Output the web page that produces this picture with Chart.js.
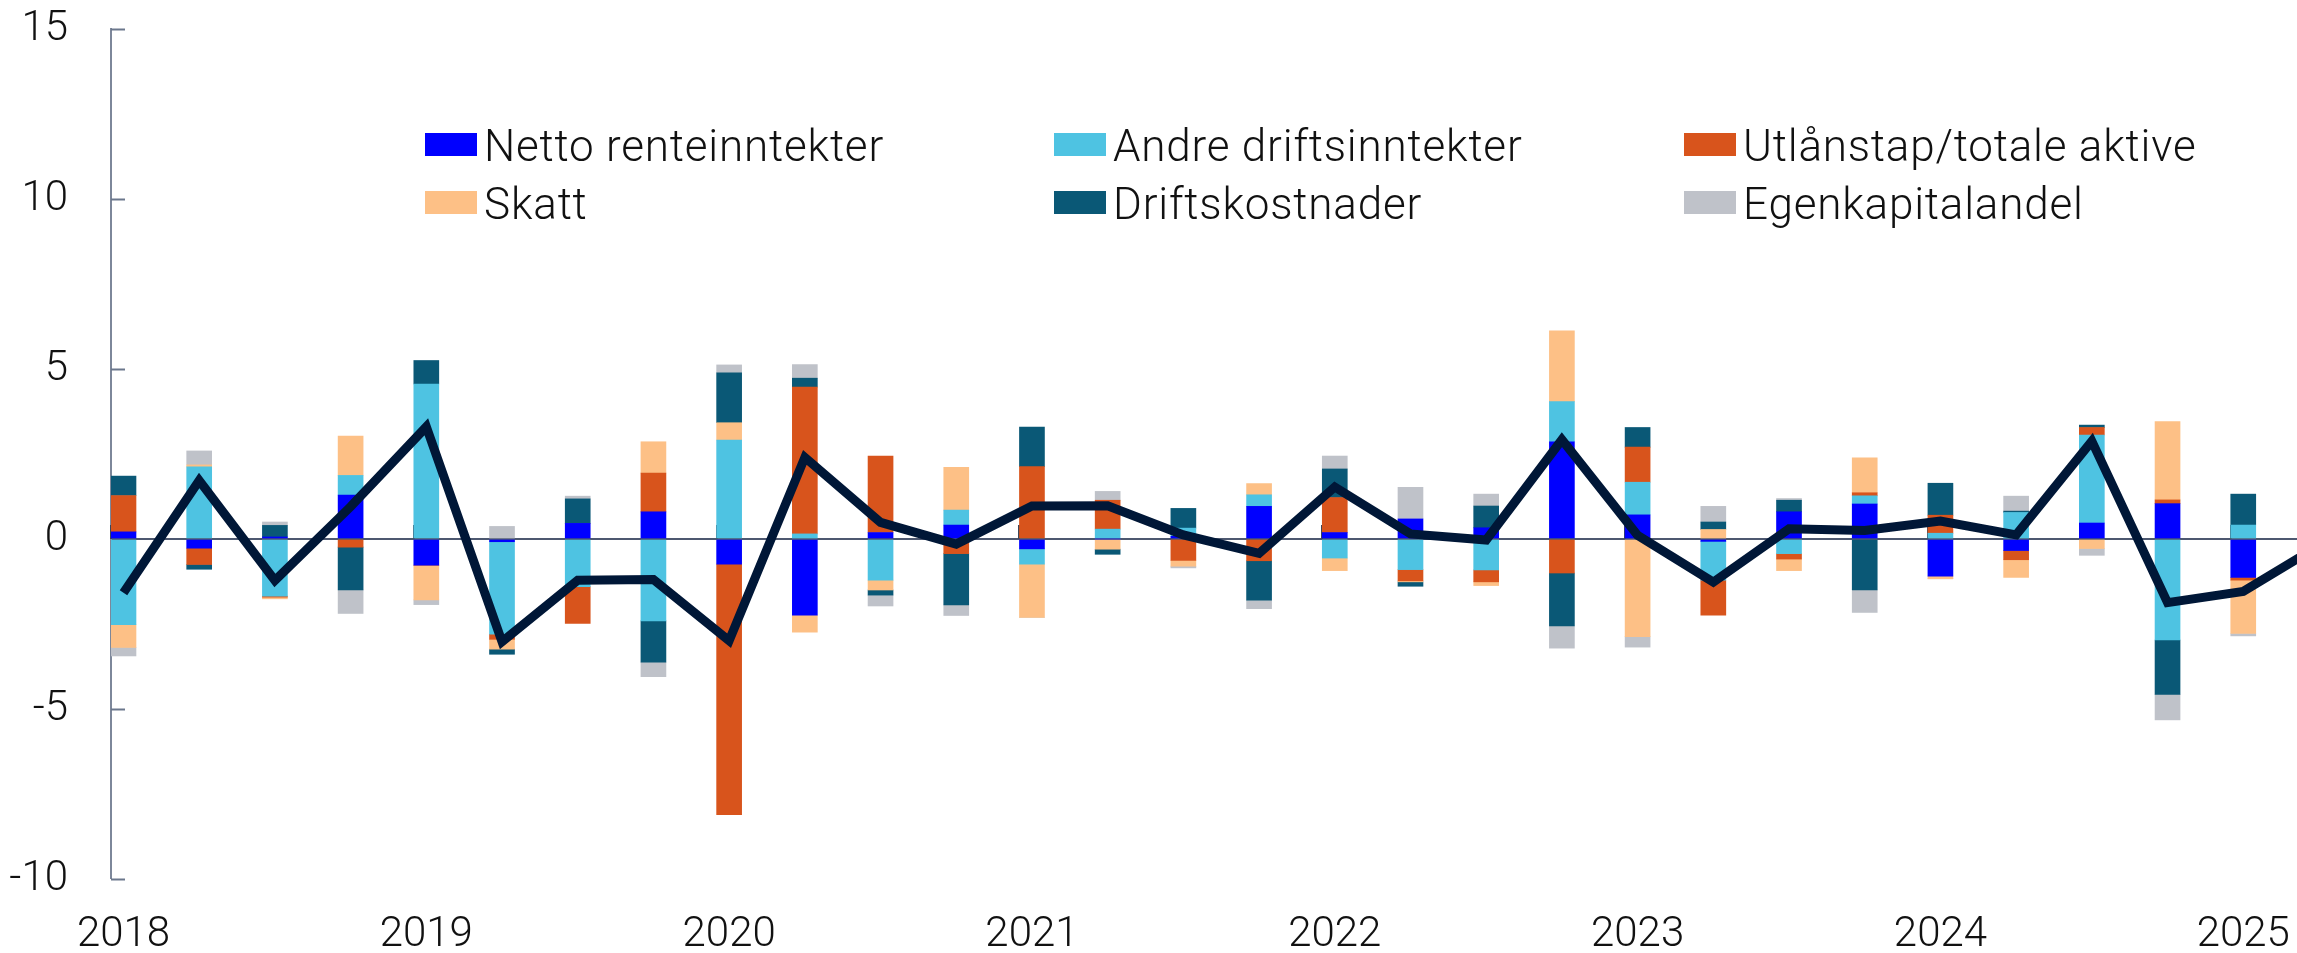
<!DOCTYPE html>
<html>
<head>
<meta charset="utf-8">
<script src="https://cdn.jsdelivr.net/npm/chart.js@4.4.1/dist/chart.umd.min.js"></script>
<style>
  html, body { margin: 0; padding: 0; background: #fff; overflow: hidden; }
  #wrap { position: relative; width: 2297px; height: 953px; }
  .leg-item { position: absolute; font-family: Roboto, "Noto Sans", sans-serif; font-weight: 300;
              font-size: 44px; line-height: 44px; letter-spacing: 0.8px; color: #111; white-space: nowrap; }
  .leg-box { position: absolute; width: 52px; height: 23px; }
</style>
</head>
<body>
<div id="wrap">
  <canvas id="myChart" width="2297" height="953"></canvas>
  <div id="legend"></div>
</div>
<script>
// quarters 2018K1 .. 2025K2 (the last one only carries the line)
const quarters = ['2018K1','2018K2','2018K3','2018K4','2019K1','2019K2','2019K3','2019K4',
  '2020K1','2020K2','2020K3','2020K4','2021K1','2021K2','2021K3','2021K4',
  '2022K1','2022K2','2022K3','2022K4','2023K1','2023K2','2023K3','2023K4',
  '2024K1','2024K2','2024K3','2024K4','2025K1','2025K2'];
const years = ['2018','2019','2020','2021','2022','2023','2024','2025'];

const nettoRente = [0.21,-0.27,0.06,1.29,-0.77,-0.08,0.46,0.80,-0.74,-2.24,0.19,0.41,-0.29,0,0.08,
  0.96,0.19,0.59,0.33,2.86,0.71,-0.07,0.80,1.03,-1.09,-0.34,0.47,1.04,-1.13];
const andreInntekter = [-2.52,2.12,-1.68,0.58,4.56,-2.72,-1.40,-2.41,2.91,0.15,-1.21,0.44,-0.45,0.29,0.24,
  0.34,-0.56,-0.90,-0.91,1.18,0.96,-1.14,-0.43,0.24,0.17,0.78,2.59,-2.97,0.41];
const utlanstap = [1.07,-0.48,-0.03,-0.24,0,-0.15,-1.08,1.14,-7.37,4.32,2.25,-0.43,2.13,0.85,-0.63,
  -0.64,1.03,-0.33,-0.35,-1.00,1.03,-1.03,-0.16,0.09,0.53,-0.27,0.22,0.11,-0.08];
const skatt = [-0.67,0.06,-0.05,1.16,-1.02,-0.29,0,0.92,0.51,-0.50,-0.29,1.26,-1.57,-0.30,-0.17,
  0.33,-0.37,-0.03,-0.11,2.08,-2.87,0.28,-0.34,1.03,-0.08,-0.52,-0.28,2.30,-1.57];
const driftskostnader = [0.57,-0.14,0.34,-1.26,0.69,-0.15,0.72,-1.21,1.47,0.26,-0.15,-1.51,1.16,-0.15,0.58,
  -1.16,0.84,-0.13,0.64,-1.56,0.58,0.22,0.34,-1.50,0.94,0.04,0.07,-1.60,0.91];
const egenkapital = [-0.25,0.41,0.10,-0.69,-0.14,0.37,0.08,-0.43,0.23,0.40,-0.32,-0.31,0,0.26,-0.05,
  -0.25,0.38,0.93,0.35,-0.65,-0.31,0.46,0.05,-0.66,0,0.44,-0.20,-0.75,-0.07];
const totalEndring = [-1.58,1.72,-1.22,0.95,3.30,-3.02,-1.21,-1.19,-2.99,2.40,0.49,-0.15,0.97,0.98,0.12,
  -0.42,1.53,0.15,-0.03,2.92,0.11,-1.27,0.30,0.25,0.53,0.12,2.88,-1.87,-1.54,-0.20];

const series = [
  { label: 'Netto renteinntekter',    data: nettoRente,      color: '#0000FF' },
  { label: 'Andre driftsinntekter',   data: andreInntekter,  color: '#4EC3E2' },
  { label: 'Utlånstap/totale aktive', data: utlanstap,       color: '#D8541C' },
  { label: 'Skatt',                   data: skatt,           color: '#FDC086' },
  { label: 'Driftskostnader',         data: driftskostnader, color: '#0A5876' },
  { label: 'Egenkapitalandel',        data: egenkapital,     color: '#BFC2C9' }
];

const BAR_W = 25;
const FONT = { family: 'Roboto, "Noto Sans", sans-serif', size: 42, weight: 300, lineHeight: 1 };

const toPoints = arr => arr.map((v, i) => ({ x: i, y: v }));

// small inward ticks on the y axis and year marks on the zero line
const axisMarks = {
  id: 'axisMarks',
  beforeDatasetsDraw(chart) {
    const { ctx, chartArea, scales: { x, y } } = chart;
    ctx.save();
    ctx.lineWidth = 2;
    ctx.strokeStyle = '#6b778c';
    y.ticks.forEach(t => {
      if (t.value === 0) return;
      const py = Math.round(y.getPixelForValue(t.value)) + 0.5;
      ctx.beginPath();
      ctx.moveTo(chartArea.left, py);
      ctx.lineTo(chartArea.left + 14, py);
      ctx.stroke();
    });
    const y0 = y.getPixelForValue(0);
    ctx.strokeStyle = '#3d4659';
    years.forEach((_, k) => {
      const px = Math.round(x.getPixelForValue(4 * k) - BAR_W / 2);
      ctx.beginPath();
      ctx.moveTo(px, y0);
      ctx.lineTo(px, y0 - 14);
      ctx.stroke();
    });
    ctx.restore();
  }
};

const datasets = [{
  type: 'line',
  label: 'Total',
  data: toPoints(totalEndring),
  borderColor: '#001737',
  borderWidth: 9,
  pointRadius: 0,
  tension: 0,
  stack: 'linje',
  order: 0
}].concat(series.map(s => ({
  type: 'bar',
  label: s.label,
  data: toPoints(s.data),
  backgroundColor: s.color,
  borderWidth: 0,
  barThickness: BAR_W,
  stack: 'komponenter',
  order: 1
})));

new Chart(document.getElementById('myChart'), {
  data: { labels: quarters, datasets: datasets },
  options: {
    responsive: false,
    animation: false,
    layout: { padding: { top: 29, right: 0, bottom: 0, left: 0 } },
    plugins: { legend: { display: false }, tooltip: { enabled: false } },
    scales: {
      x: {
        type: 'linear',
        stacked: true,
        offset: false,
        min: -0.165,
        max: 28.71,
        grid: { display: false, drawTicks: false, offset: false },
        border: { display: false },
        afterBuildTicks: s => { s.ticks = years.map((_, k) => ({ value: 4 * k })); },
        afterFit: s => { s.height = 74; s.paddingLeft = 0; s.paddingRight = 0; },
        ticks: {
          autoSkip: false,
          maxRotation: 0,
          padding: 35,
          color: '#111',
          font: FONT,
          callback: (v) => years[Math.round(v / 4)]
        }
      },
      y: {
        stacked: true,
        min: -10,
        max: 15,
        afterFit: s => { s.width = 111; s.paddingTop = 0; s.paddingBottom = 0; },
        grid: {
          drawTicks: false,
          color: c => c.tick && c.tick.value === 0 ? '#4d5870' : 'rgba(0,0,0,0)',
          lineWidth: c => c.tick && c.tick.value === 0 ? 2 : 0
        },
        border: { display: true, color: '#7d879a', width: 2 },
        ticks: { stepSize: 5, padding: 43, color: '#111', font: FONT }
      }
    }
  },
  plugins: [axisMarks]
});

// legend: three columns, two rows, inside the plot
const legend = document.getElementById('legend');
const colX = [425, 1054, 1684];
const rowY = [133, 191];
series.forEach((s, i) => {
  const cx = colX[i % 3], ry = rowY[Math.floor(i / 3)];
  const box = document.createElement('div');
  box.className = 'leg-box';
  box.style.left = cx + 'px';
  box.style.top = ry + 'px';
  box.style.background = s.color;
  legend.appendChild(box);
  const txt = document.createElement('div');
  txt.className = 'leg-item';
  txt.style.left = (cx + 59) + 'px';
  txt.style.top = (ry - 9) + 'px';
  txt.textContent = s.label;
  legend.appendChild(txt);
});
</script>
</body>
</html>
